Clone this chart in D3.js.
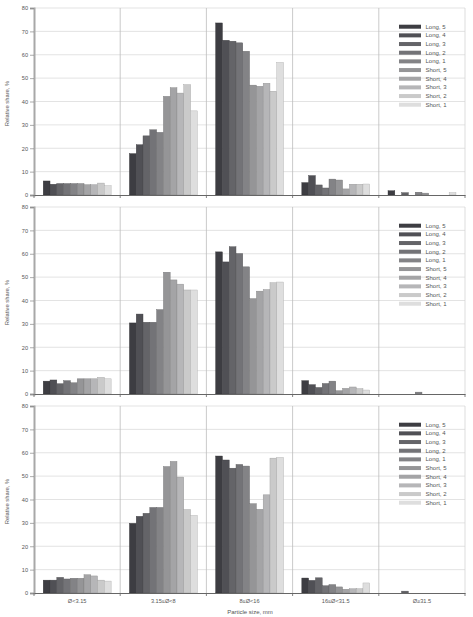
<!DOCTYPE html>
<html>
<head>
<meta charset="utf-8">
<script src="https://cdn.jsdelivr.net/npm/d3@7"></script>
<style>
  html, body { margin: 0; padding: 0; background: #fff; }
  svg { display: block; font-family: "Liberation Sans", Arial, sans-serif; }
</style>
</head>
<body>
<svg id="chart" width="473" height="617"></svg>
<script>
// ---- data ----
const categories = ["Ø<3.15", "3.15≤Ø<8", "8≤Ø<16", "16≤Ø<31.5", "Ø≥31.5"];
const seriesNames = ["Long, 5", "Long, 4", "Long, 3", "Long, 2", "Long, 1",
                     "Short, 5", "Short, 4", "Short, 3", "Short, 2", "Short, 1"];
const seriesColors = ["#3d3d42", "#505055", "#646468", "#737377", "#838386",
                      "#959597", "#a4a4a6", "#b6b6b8", "#cacaca", "#dedede"];
const yTicks = [0, 10, 20, 30, 40, 50, 60, 70, 80];

// values per panel: one row per category, one value per series (in seriesNames order)
const panelTop = [
  [6.0, 4.6, 4.9, 4.9, 4.9, 4.9, 4.4, 4.4, 5.1, 4.0],
  [17.7, 21.5, 25.3, 27.9, 26.8, 42.2, 45.9, 43.6, 47.2, 36.0],
  [73.6, 66.2, 65.8, 65.1, 61.5, 47.0, 46.5, 47.8, 44.4, 56.7],
  [5.3, 8.3, 4.3, 3.0, 6.8, 6.4, 2.6, 4.6, 4.6, 4.7],
  [1.8, 0, 1.0, 0, 1.2, 0.8, 0, 0, 0, 1.0]
];
const panelMiddle = [
  [5.5, 6.0, 4.4, 5.7, 4.8, 6.5, 6.5, 6.5, 7.1, 6.5],
  [30.4, 34.2, 30.7, 30.7, 36.1, 52.1, 48.8, 47.0, 44.5, 44.5],
  [60.8, 56.5, 63.0, 60.1, 54.4, 40.8, 44.0, 44.7, 47.6, 47.9],
  [5.7, 4.0, 2.8, 4.5, 5.5, 1.4, 2.4, 3.0, 2.3, 1.7],
  [0, 0, 0, 0, 0.8, 0, 0, 0, 0, 0]
];
const panelBottom = [
  [5.5, 5.5, 6.7, 6.0, 6.3, 6.3, 7.8, 7.3, 5.5, 5.1],
  [29.8, 32.8, 34.1, 36.6, 36.6, 54.1, 56.3, 49.6, 35.7, 33.2],
  [58.6, 56.9, 53.4, 55.0, 54.3, 38.2, 35.8, 42.0, 57.7, 58.0],
  [6.4, 5.4, 6.5, 3.1, 3.6, 2.6, 1.6, 1.8, 1.8, 4.3],
  [0, 0, 0.8, 0, 0, 0, 0, 0, 0, 0]
];
const panels = [panelTop, panelMiddle, panelBottom];

// ---- layout ----
const svg = d3.select("#chart");
const left = 34, right = 465;
const panelTops = [8, 207, 406];
const panelH = 187;
const textColor = "#555";

const x0 = d3.scaleBand().domain(categories).range([left, right]).padding(0);
const x1 = d3.scaleBand().domain(seriesNames)
  .range([x0.bandwidth() * 0.107, x0.bandwidth() * 0.895]).padding(0);
const color = d3.scaleOrdinal().domain(seriesNames).range(seriesColors);

panels.forEach((data, pi) => {
  const top = panelTops[pi];
  const y = d3.scaleLinear().domain([0, 80]).range([top + panelH, top]);
  const g = svg.append("g");

  // horizontal gridlines
  g.append("g").selectAll("line").data(yTicks.filter(d => d > 0)).join("line")
    .attr("x1", left).attr("x2", right)
    .attr("y1", d => y(d)).attr("y2", d => y(d))
    .attr("stroke", "#dcdcdc").attr("stroke-width", 0.8);

  // vertical gridlines at category boundaries
  const bounds = categories.slice(1).map(c => x0(c)).concat([right]);
  g.append("g").selectAll("line").data(bounds).join("line")
    .attr("x1", d => d).attr("x2", d => d)
    .attr("y1", y(80)).attr("y2", y(0))
    .attr("stroke", (d, i) => i === bounds.length - 1 ? "#d4d4d4" : "#bdbdbd")
    .attr("stroke-width", 0.8);

  // bars
  const groups = g.append("g").selectAll("g").data(data).join("g")
    .attr("transform", (d, i) => `translate(${x0(categories[i])},0)`);
  groups.selectAll("rect")
    .data(row => row.map((v, j) => ({ name: seriesNames[j], v })).filter(d => d.v > 0))
    .join("rect")
    .attr("x", d => x1(d.name))
    .attr("width", x1.bandwidth())
    .attr("y", d => y(d.v))
    .attr("height", d => y(0) - y(d.v))
    .attr("fill", d => color(d.name))
    .attr("stroke", d => d3.color(color(d.name)).darker(0.7))
    .attr("stroke-width", 0.4);

  // y axis
  const yAxis = d3.axisLeft(y).tickValues(yTicks).tickSize(4).tickPadding(2);
  const ya = g.append("g").attr("transform", `translate(${left},0)`).call(yAxis);
  ya.select(".domain").attr("stroke", "#a8a8a8").attr("stroke-width", 2);
  ya.selectAll(".tick line").attr("stroke", "#888").attr("stroke-width", 0.7);
  ya.selectAll(".tick text").attr("fill", textColor).attr("font-size", 5.6)
    .attr("font-family", "Liberation Sans, Arial, sans-serif");

  // x axis
  const xAxis = d3.axisBottom(x0).tickSize(0).tickPadding(6);
  const xa = g.append("g").attr("transform", `translate(0,${y(0)})`).call(xAxis);
  xa.select(".domain").attr("stroke", "#666").attr("stroke-width", 1);
  xa.selectAll(".tick text").attr("fill", textColor).attr("font-size", 5.6)
    .attr("font-family", "Liberation Sans, Arial, sans-serif")
    .style("display", pi === 2 ? null : "none");
  // boundary tick marks
  g.append("g").selectAll("line").data([left].concat(bounds)).join("line")
    .attr("x1", d => d).attr("x2", d => d)
    .attr("y1", y(0)).attr("y2", y(0) + 3)
    .attr("stroke", "#666").attr("stroke-width", 0.8);

  // y title
  g.append("text")
    .attr("transform", `translate(9,${top + panelH / 2 + 2}) rotate(-90)`)
    .attr("text-anchor", "middle")
    .attr("font-size", 5.8).attr("fill", textColor)
    .text("Relative share, %");

  // legend
  const lg = g.append("g").attr("transform", `translate(399,${top + 18.7})`);
  const items = lg.selectAll("g").data(seriesNames).join("g")
    .attr("transform", (d, i) => `translate(0,${i * 8.67})`);
  items.append("rect").attr("x", 0).attr("y", -2).attr("width", 22).attr("height", 4)
    .attr("fill", d => color(d));
  items.append("text").attr("x", 26.5).attr("y", 2.1)
    .attr("font-size", 6).attr("fill", textColor).text(d => d);
});

// x title
svg.append("text")
  .attr("x", 250).attr("y", 614)
  .attr("text-anchor", "middle")
  .attr("font-size", 6).attr("fill", textColor)
  .text("Particle size, mm");
</script>
</body>
</html>
